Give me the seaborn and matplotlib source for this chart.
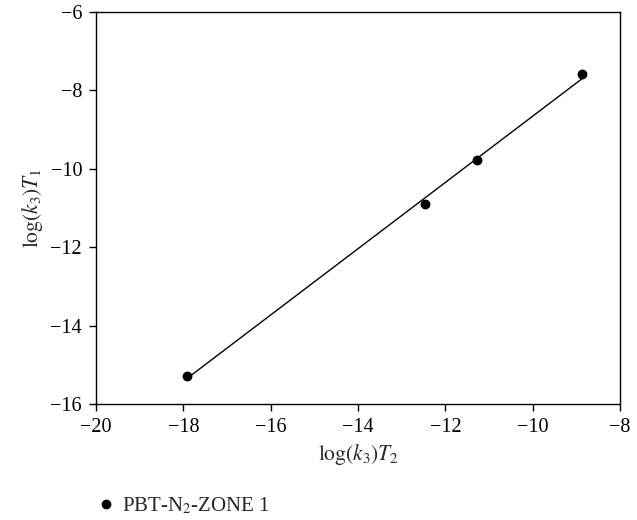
import matplotlib
matplotlib.use("Agg")
import matplotlib.pyplot as plt
import seaborn as sns
import pandas as pd
from matplotlib.lines import Line2D

x_vals = [-17.92, -12.47, -11.28, -8.87]
y_vals = [-15.28, -10.90, -9.78, -7.58]
series_label = "PBT-N$_2$-ZONE 1"
x_ticks = [-20, -18, -16, -14, -12, -10, -8]
y_ticks = [-16, -14, -12, -10, -8, -6]

sns.set_style("ticks")
plt.rcParams['font.family'] = ['Liberation Serif', 'DejaVu Serif']
plt.rcParams['mathtext.fontset'] = 'stix'

df = pd.DataFrame({"x": x_vals, "y": y_vals})

fig = plt.figure(figsize=(6.37, 5.2), dpi=100)
ax = fig.add_axes([0.1507, 0.2231, 0.8226, 0.7538])
sns.regplot(data=df, x="x", y="y", ax=ax, ci=None, truncate=True,
            scatter_kws=dict(s=50, color="black", alpha=1, linewidths=0, zorder=3),
            line_kws=dict(color="black", lw=1.0))
ax.set_xlim(-20, -8)
ax.set_ylim(-16, -6)
ax.set_xticks(x_ticks)
ax.set_yticks(y_ticks)
ax.tick_params(direction="out", length=5, width=1, labelsize=14.5, colors="black", pad=5)
for s in ax.spines.values():
    s.set_linewidth(1.0)
    s.set_color("black")
ax.set_xlabel(r"$\mathrm{log}(k_3)T_2$", fontsize=15.5, labelpad=4)
ax.set_ylabel(r"$\mathrm{log}(k_3)T_1$", fontsize=15.5, labelpad=4)

handle = Line2D([], [], marker="o", color="black", linestyle="none", markersize=6)
fig.legend([handle], [series_label], loc="center left",
           bbox_to_anchor=(0.12, 0.027), frameon=False, fontsize=15,
           handletextpad=0.3, handlelength=1.0)

fig.savefig("out.png", dpi=100)
